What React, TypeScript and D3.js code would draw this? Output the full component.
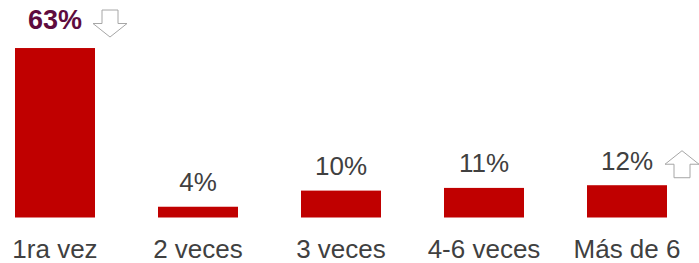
import { useEffect, useRef } from 'react'
import * as d3 from 'd3'

const categories = ['1ra vez', '2 veces', '3 veces', '4-6 veces', 'Más de 6']
const values = [63, 4, 10, 11, 12]
const highlight = [true, false, false, false, false]
const arrows: (string | null)[] = ['down', null, null, null, 'up']

const W = 699
const H = 263
const RED = '#c00000'
const TXT = '#404040'
const PURPLE = '#5e0b3e'
const FONT = '"Liberation Sans", Arial, Helvetica, sans-serif'

export default function App() {
  const svgRef = useRef<SVGSVGElement>(null)

  useEffect(() => {
    const svg = d3.select(svgRef.current)
    svg.selectAll('*').remove()

    const x = d3.scaleBand<string>()
      .domain(categories)
      .range([15, 667])
      .paddingInner(63 / 143)
      .paddingOuter(0)

    const base = 217.5
    const y = d3.scaleLinear().domain([0, 100]).range([base, base - 269])

    const rows = categories.map((c, i) => ({ c, v: values[i], hl: highlight[i], arrow: arrows[i] }))

    svg.append('g').selectAll('rect')
      .data(rows)
      .join('rect')
      .attr('x', d => x(d.c)!)
      .attr('width', x.bandwidth())
      .attr('y', d => y(d.v))
      .attr('height', d => base - y(d.v))
      .attr('fill', RED)

    // value labels
    const labelY = (d: any) => y(d.v) - (d.hl ? 19 : 15.5)
    svg.append('g').selectAll('text')
      .data(rows)
      .join('text')
      .attr('x', d => x(d.c)! + x.bandwidth() / 2)
      .attr('y', labelY)
      .attr('text-anchor', 'middle')
      .attr('font-family', FONT)
      .attr('font-size', d => d.hl ? 27 : 26)
      .attr('font-weight', d => d.hl ? 700 : 400)
      .attr('fill', d => d.hl ? PURPLE : TXT)
      .text(d => `${d.v}%`)

    // category labels
    svg.append('g').selectAll('text')
      .data(rows)
      .join('text')
      .attr('x', d => x(d.c)! + x.bandwidth() / 2)
      .attr('y', 258)
      .attr('text-anchor', 'middle')
      .attr('font-family', FONT)
      .attr('font-size', 26)
      .attr('fill', TXT)
      .text(d => d.c)

    // trend arrows next to the labels
    const arrowPath = (dir: string, cx: number, ty: number) => {
      const sw = 8, hw = 17, h = 27, split = 13.5
      if (dir === 'down') {
        return `M${cx - sw},${ty} L${cx + sw},${ty} L${cx + sw},${ty + split} L${cx + hw},${ty + split}
          L${cx},${ty + h} L${cx - hw},${ty + split} L${cx - sw},${ty + split} Z`
      }
      return `M${cx},${ty} L${cx + hw},${ty + split} L${cx + sw},${ty + split} L${cx + sw},${ty + h}
        L${cx - sw},${ty + h} L${cx - sw},${ty + split} L${cx - hw},${ty + split} Z`
    }
    svg.append('g').selectAll('path')
      .data(rows.filter(d => d.arrow))
      .join('path')
      .attr('d', d => arrowPath(d.arrow!, x(d.c)! + x.bandwidth() / 2 + 55, labelY(d) - 19))
      .attr('fill', '#fff')
      .attr('stroke', '#a6a6a6')
      .attr('stroke-width', 1)
  }, [])

  return (
    <svg ref={svgRef} width={W} height={H}
      style={{ position: 'absolute', left: 0, top: 0, background: '#fff' }} />
  )
}
